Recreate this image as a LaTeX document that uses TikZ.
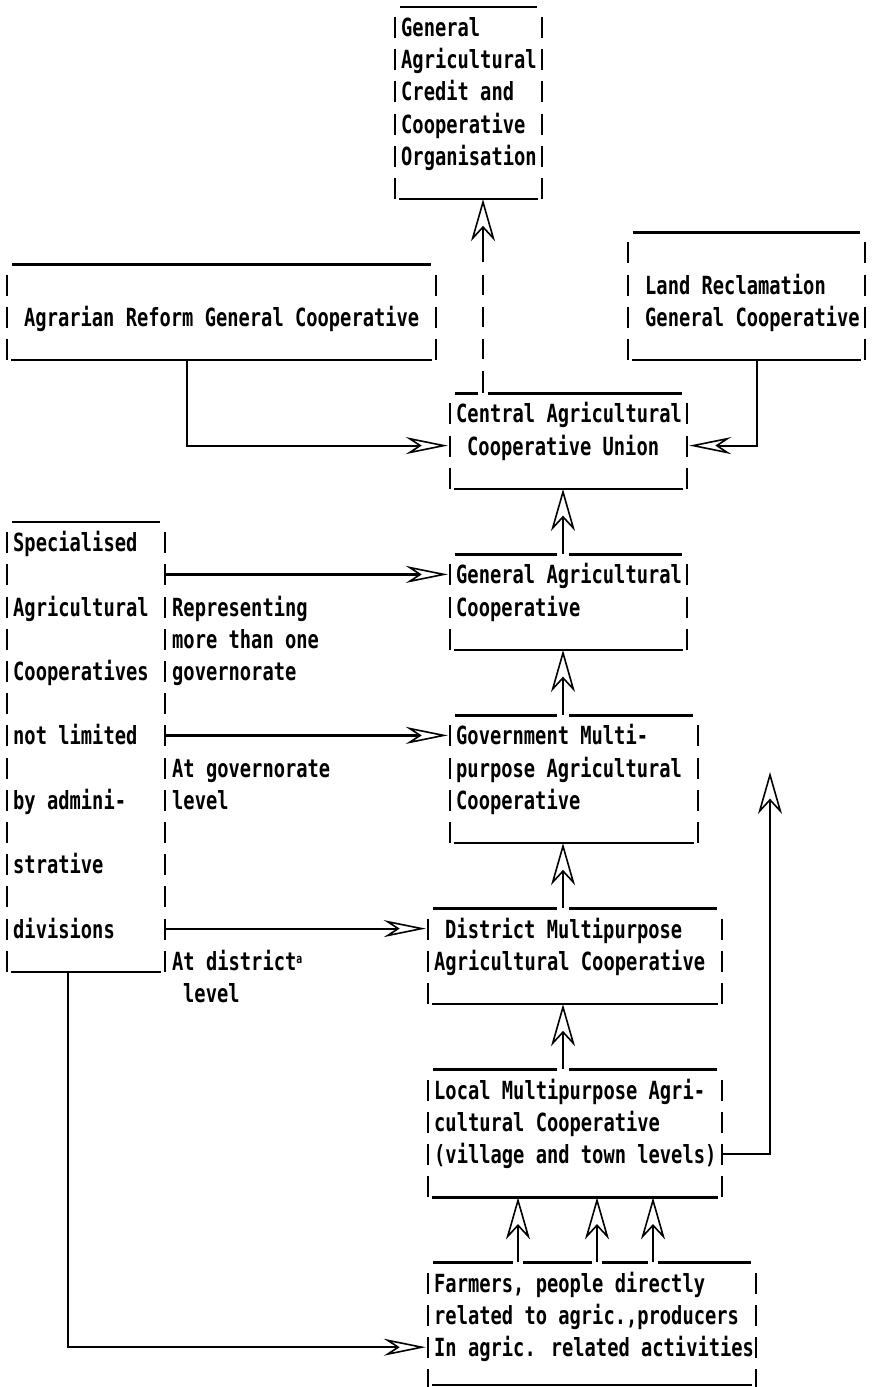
\documentclass[tikz,border=0pt]{standalone}
\usepackage{fontspec}
\newfontfamily\twfont{DejaVu Sans Mono Bold}[FakeStretch=0.75]
\usetikzlibrary{arrows.meta,fit}
\pgfmathdeclarefunction{rc}{1}{\pgfmathparse{32.2*(#1)-5.2}}
\pgfmathdeclarefunction{bl}{1}{\pgfmathparse{32.2*(#1)+4.3}}
\tikzset{
  txt/.style={font=\twfont\fontsize{25}{30}\selectfont, inner sep=0pt, anchor=base west},
  rule/.style={line width=2.6pt},
  bar/.style={line width=2.6pt},
  conn/.style={line width=2.2pt},
  vtip/.style={-{Stealth[open,length=42pt,width=24pt,inset=13pt,line width=1.6pt]}},
  htip/.style={-{Stealth[open,length=42pt,width=17pt,inset=13pt,line width=1.6pt]}, shorten >=2pt},
  frame/.style={inner sep=0pt, draw=none},
}
\newcommand\tbox[5]{%
  \node[frame, fit={(#2,{rc(#4-1)+12}) (#3,{rc(#5)+11})}] (#1) {};
  \draw[rule] ({#2+5},{rc(#4-1)+12}) -- ({#3-5},{rc(#4-1)+12});
  \draw[rule] ({#2+4},{rc(#5)+11}) -- ({#3-4},{rc(#5)+11});
  \foreach \k in {#4,...,#5}{
    \draw[bar] (#2,{rc(\k)-10}) -- (#2,{rc(\k)+11});
    \draw[bar] (#3,{rc(\k)-10}) -- (#3,{rc(\k)+11});
  }
}
\newcommand\tline[4]{\node[txt] (#1) at (#2,{bl(#3)}) {#4};}
\begin{document}
\begin{tikzpicture}[x=1pt,y=-1pt]
\fill[white] (0,0) rectangle (871,1387);
\useasboundingbox (0,0) rectangle (871,1387);
% column and row coordinates
\coordinate (xdash) at (483,0);
\coordinate (xc) at (563,0);
\coordinate (xa) at (187,0);
\coordinate (xl) at (757,0);
\coordinate (xs) at (68,0);
\coordinate (xf1) at (518,0);
\coordinate (xf2) at (597,0);
\coordinate (xf3) at (653,0);
\coordinate (r14) at (0,{rc(14)});
\coordinate (r18) at (0,{rc(18)});
\coordinate (r23) at (0,{rc(23)});
\coordinate (r29) at (0,{rc(29)});
\coordinate (r36) at (0,{rc(36)});
\coordinate (r42) at (0,{rc(42)});
\coordinate (tipR) at (770,772);
\coordinate (dtop) at (483,{rc(8)+10});
% boxes
\tbox{gacco}{395}{542}{1}{6}
\tbox{agrarian}{7}{436}{9}{11}
\tbox{land}{628}{865}{8}{11}
\tbox{central}{450}{687}{13}{15}
\tbox{genagri}{450}{687}{18}{20}
\tbox{gov}{450}{698}{23}{26}
\tbox{district}{428}{722}{29}{31}
\tbox{local}{428}{722}{34}{37}
\tbox{farmers}{428}{756}{40}{43}
\tbox{spec}{7}{165}{17}{30}
\draw[rule] (432,1385) -- (752,1385);
% gaps in top lines
\fill[white] (478,{rc(12)+8}) rectangle (488,{rc(12)+16});
\foreach \r in {17,22,28,33}{
  \fill[white] (557,{rc(\r)+8}) rectangle (569,{rc(\r)+16});
}
\foreach \g in {518,597,653}{
  \fill[white] ({\g-5},{rc(39)+8}) rectangle ({\g+5},{rc(39)+16});
}
% texts
\tline{g1}{401}{1}{General}
\tline{g2}{401}{2}{Agricultural}
\tline{g3}{401}{3}{Credit and}
\tline{g4}{401}{4}{Cooperative}
\tline{g5}{401}{5}{Organisation}
\tline{a1}{24}{10}{Agrarian Reform General Cooperative}
\tline{l1}{645}{9}{Land Reclamation}
\tline{l2}{645}{10}{General Cooperative}
\tline{c1}{456}{13}{Central Agricultural}
\tline{c2}{467}{14}{Cooperative Union}
\tline{ga1}{456}{18}{General Agricultural}
\tline{ga2}{456}{19}{Cooperative}
\tline{gv1}{456}{23}{Government Multi-}
\tline{gv2}{456}{24}{purpose Agricultural}
\tline{gv3}{456}{25}{Cooperative}
\tline{d1}{445}{29}{District Multipurpose}
\tline{d2}{434}{30}{Agricultural Cooperative}
\tline{lo1}{434}{34}{Local Multipurpose Agri-}
\tline{lo2}{434}{35}{cultural Cooperative}
\tline{lo3}{434}{36}{(village and town levels)}
\tline{f1}{434}{40}{Farmers, people directly}
\tline{f2}{434}{41}{related to agric.,producers}
\tline{f3}{434}{42}{In agric. related activities}
\tline{s1}{13}{17}{Specialised}
\tline{s2}{13}{19}{Agricultural}
\tline{s3}{13}{21}{Cooperatives}
\tline{s4}{13}{23}{not limited}
\tline{s5}{13}{25}{by admini-}
\tline{s6}{13}{27}{strative}
\tline{s7}{13}{29}{divisions}
\tline{lb1}{172}{19}{Representing}
\tline{lb2}{172}{20}{more than one}
\tline{lb3}{172}{21}{governorate}
\tline{lb4}{172}{24}{At governorate}
\tline{lb5}{172}{25}{level}
\tline{lb6}{172}{30}{At district\raisebox{7pt}{\fontsize{13}{13}\selectfont a}}
\tline{lb7}{183}{31}{level}
% connectors
\draw[conn,vtip] (dtop) -- (gacco.south -| xdash);
\foreach \k in {9,10,11}{
  \draw[bar] (483,{rc(\k)-10}) -- (483,{rc(\k)+10});
}
\draw[bar] (483,{rc(12)-10}) -- (central.north -| xdash);
\draw[conn,htip] (agrarian.south -| xa) |- (central.west |- r14);
\draw[conn,htip] (land.south -| xl) |- (central.east |- r14);
\draw[conn,vtip] (genagri.north -| xc) -- (central.south -| xc);
\draw[conn,vtip] (gov.north -| xc) -- (genagri.south -| xc);
\draw[conn,vtip] (district.north -| xc) -- (gov.south -| xc);
\draw[conn,vtip] (local.north -| xc) -- (district.south -| xc);
\draw[conn,vtip] (farmers.north -| xf1) -- (local.south -| xf1);
\draw[conn,vtip] (farmers.north -| xf2) -- (local.south -| xf2);
\draw[conn,vtip] (farmers.north -| xf3) -- (local.south -| xf3);
\draw[conn,vtip] (local.east |- r36) -| (tipR);
\draw[conn,htip] (spec.east |- r18) -- (genagri.west |- r18);
\draw[conn,htip] (spec.east |- r23) -- (gov.west |- r23);
\draw[conn,htip] (spec.east |- r29) -- (district.west |- r29);
\draw[conn,htip] (spec.south -| xs) |- (farmers.west |- r42);
\end{tikzpicture}
\end{document}
